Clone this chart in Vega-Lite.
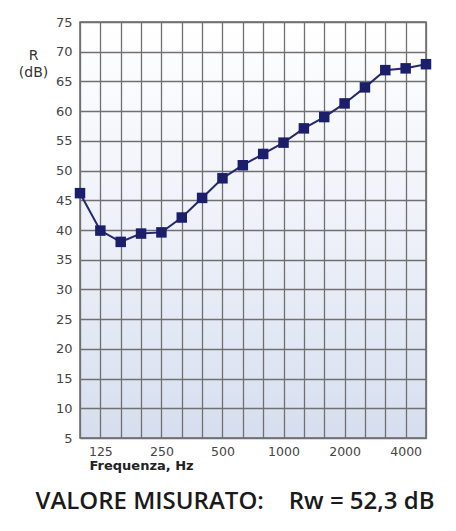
{
  "$schema": "https://vega.github.io/schema/vega-lite/v6.json",
  "width": 346,
  "height": 416,
  "autosize": {"type": "none"},
  "padding": {"left": 80, "top": 22, "right": 30, "bottom": 93},
  "background": "#ffffff",
  "title": {
    "text": "VALORE MISURATO:\u00a0\u00a0\u00a0\u00a0Rw = 52,3 dB",
    "orient": "bottom",
    "anchor": "middle",
    "dx": -18,
    "offset": 18,
    "font": "Open Sans",
    "fontSize": 24,
    "fontWeight": 600,
    "color": "#1a1a1a"
  },
  "data": {
    "values": [
      {"f": 100, "r": 46.2},
      {"f": 125, "r": 39.9},
      {"f": 160, "r": 38.0},
      {"f": 200, "r": 39.4},
      {"f": 250, "r": 39.6},
      {"f": 315, "r": 42.1},
      {"f": 400, "r": 45.4},
      {"f": 500, "r": 48.7},
      {"f": 630, "r": 50.9},
      {"f": 800, "r": 52.8},
      {"f": 1000, "r": 54.7},
      {"f": 1250, "r": 57.1},
      {"f": 1600, "r": 59.0},
      {"f": 2000, "r": 61.3},
      {"f": 2500, "r": 64.0},
      {"f": 3150, "r": 66.9},
      {"f": 4000, "r": 67.2},
      {"f": 5000, "r": 67.9}
    ]
  },
  "encoding": {
    "x": {
      "field": "f",
      "type": "ordinal",
      "scale": {"type": "point", "padding": 0},
      "axis": {
        "title": "Frequenza, Hz",
        "titleFont": "DejaVu Sans",
        "titleFontSize": 13,
        "titleFontWeight": "bold",
        "titleColor": "#222222",
        "titleAnchor": "start",
        "titleX": 9,
        "titleY": 21,
        "labelAngle": 0,
        "labelFont": "DejaVu Sans",
        "labelFontSize": 12.5,
        "labelColor": "#444444",
        "labelPadding": 7,
        "labelOverlap": false,
        "labelExpr": "indexof([125,250,500,1000,2000,4000], datum.value) >= 0 ? datum.label : ''",
        "domain": false,
        "ticks": false,
        "grid": true,
        "gridColor": "#707070",
        "gridWidth": 1.3,
        "gridOpacity": 1
      }
    },
    "y": {
      "field": "r",
      "type": "quantitative",
      "scale": {"domain": [5, 75], "nice": false, "zero": false},
      "axis": {
        "values": [5, 10, 15, 20, 25, 30, 35, 40, 45, 50, 55, 60, 65, 70, 75],
        "title": ["R", "(dB)"],
        "titleAngle": 0,
        "titleAlign": "center",
        "titleBaseline": "middle",
        "titleX": -47,
        "titleY": 33,
        "titleFont": "DejaVu Sans",
        "titleFontSize": 14,
        "titleFontWeight": "normal",
        "titleColor": "#333333",
        "titleLineHeight": 17,
        "labelFont": "DejaVu Sans",
        "labelFontSize": 13,
        "labelColor": "#444444",
        "labelPadding": 8,
        "domain": false,
        "ticks": false,
        "grid": true,
        "gridColor": "#707070",
        "gridWidth": 1.3,
        "gridOpacity": 1
      }
    }
  },
  "layer": [
    {"mark": {"type": "line", "color": "#23286f", "strokeWidth": 2}},
    {"mark": {"type": "point", "shape": "square", "filled": true, "size": 110, "color": "#1b1e6a", "opacity": 1}}
  ],
  "config": {
    "view": {
      "stroke": "#666666",
      "strokeWidth": 1.5,
      "fill": {
        "gradient": "linear",
        "x1": 0, "y1": 0, "x2": 0, "y2": 1,
        "stops": [
          {"offset": 0, "color": "#ffffff"},
          {"offset": 0.5, "color": "#eef1f9"},
          {"offset": 1, "color": "#d6deef"}
        ]
      }
    }
  }
}
